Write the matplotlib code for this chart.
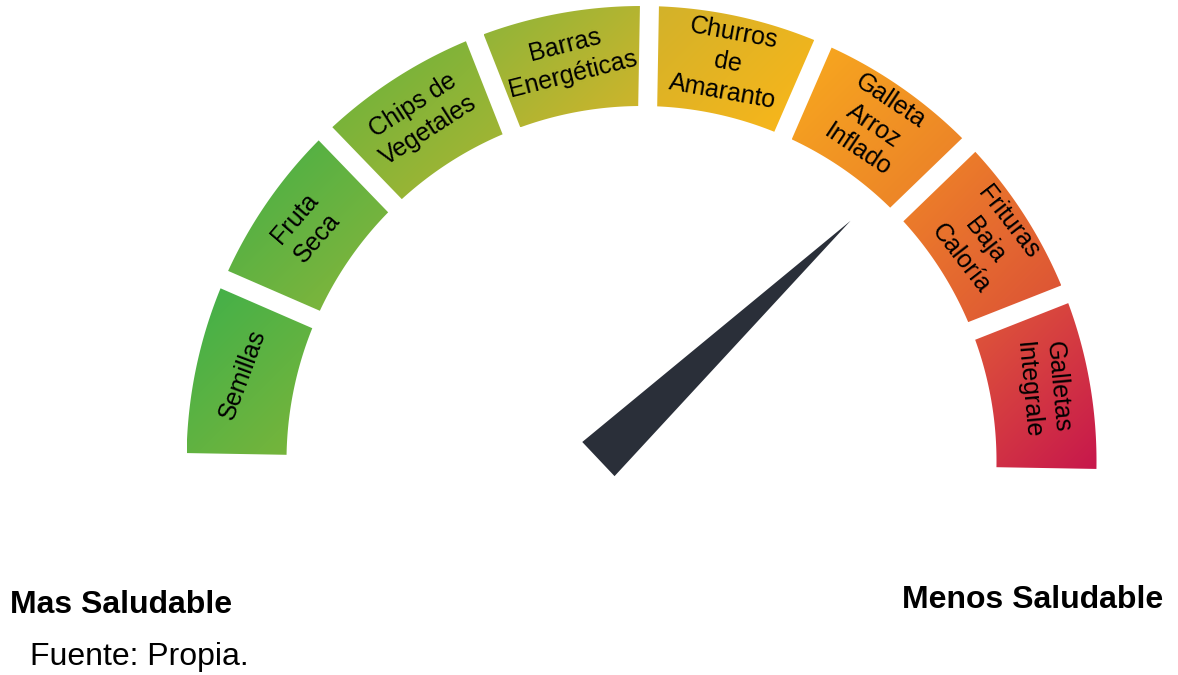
import numpy as np
import matplotlib
matplotlib.use('Agg')
import matplotlib.pyplot as plt
from matplotlib.patches import Polygon
from matplotlib.colors import to_rgb

plt.rcParams['font.family'] = ['Liberation Sans', 'DejaVu Sans']

# gauge categories, from healthiest (left) to least healthy (right)
categories = ['Semillas', 'Fruta\nSeca', 'Chips de\nVegetales', 'Barras\nEnergéticas',
              'Churros\nde\nAmaranto', 'Galleta\nArroz\nInflado',
              'Frituras\nBaja\nCaloría', 'Galletas\nIntegrale']
needle_value = 75.9   # 0 = left end, 100 = right end
left_label = 'Mas Saludable'
right_label = 'Menos Saludable'
source_text = 'Fuente: Propia.'

# gradient (top-left -> bottom-right) for every segment
seg_colors = [('#3fb04a', '#7bb53a'), ('#43af47', '#8ab63a'), ('#66b33d', '#aeb532'),
              ('#8bb53a', '#d3b42a'), ('#d2b22a', '#fcb619'), ('#f8aa1e', '#ea7c2a'),
              ('#f08727', '#db5037'), ('#e05a38', '#c7174c')]
needle_color = '#2a2f39'
# small tweaks of the label angle away from the tangent
rot_tweak = [-8, -6, 0, 4, 2, 1, 5, -5]

W, H = 1178, 675
CX, CY = 641.5, 461
R_OUT, R_IN = 455, 355
GAP = 19
START, END = 179.0, -1.0


def sector(a0, a1, gap0, gap1):
    pts = []
    for r, rev in ((R_OUT, False), (R_IN, True)):
        d0 = np.degrees(np.arcsin(gap0 / 2 / r))
        d1 = np.degrees(np.arcsin(gap1 / 2 / r))
        angs = np.linspace(a0 - d0, a1 + d1, 80)
        if rev:
            angs = angs[::-1]
        rad = np.radians(angs)
        pts.append(np.column_stack([CX + r * np.cos(rad), CY - r * np.sin(rad)]))
    return np.vstack(pts)


fig = plt.figure(figsize=(W / 100, H / 100), dpi=100)
ax = fig.add_axes([0, 0, 1, 1])

n = len(categories)
step = (START - END) / n
for i, label in enumerate(categories):
    a0 = START - i * step
    a1 = a0 - step
    pts = sector(a0, a1, GAP if i > 0 else 0, GAP if i < n - 1 else 0)
    poly = Polygon(pts, closed=True, facecolor='none', edgecolor='none')
    ax.add_patch(poly)

    x0, y0 = pts.min(0)
    x1, y1 = pts.max(0)
    nx, ny = int(x1 - x0) + 2, int(y1 - y0) + 2
    xx, yy = np.meshgrid(np.linspace(0, x1 - x0, nx), np.linspace(0, y1 - y0, ny))
    t = ((xx + yy) / ((x1 - x0) + (y1 - y0)))[..., None]
    c0, c1 = np.array(to_rgb(seg_colors[i][0])), np.array(to_rgb(seg_colors[i][1]))
    img = c0 * (1 - t) + c1 * t
    im = ax.imshow(img, extent=(x0, x1, y1, y0), origin='upper', aspect='auto',
                   interpolation='bilinear')
    im.set_clip_path(poly)

    mid = (a0 + a1) / 2
    rm = 408
    ax.text(CX + rm * np.cos(np.radians(mid)), CY - rm * np.sin(np.radians(mid)), label,
            rotation=mid - 90 + rot_tweak[i], rotation_mode='anchor', ha='center',
            va='center', multialignment='center', fontsize=18, linespacing=1.3,
            color='black')

# needle
theta = np.radians(180 - 1.8 * needle_value)
d = np.array([np.cos(theta), -np.sin(theta)])
p = np.array([np.sin(theta), np.cos(theta)])
base = np.array([CX, CY]) - 30 * d - 31 * p
tip = base + 347 * d
needle = Polygon([base + 23.5 * p, tip, base - 23.5 * p], closed=True,
                 facecolor=needle_color, edgecolor='none')
ax.add_patch(needle)

ax.text(10, 613, left_label, fontsize=23, fontweight='bold', ha='left', va='baseline')
ax.text(1163, 608, right_label, fontsize=23, fontweight='bold', ha='right', va='baseline')
ax.text(30, 665, source_text, fontsize=23, ha='left', va='baseline')

ax.set_xlim(0, W)
ax.set_ylim(H, 0)
ax.axis('off')

fig.savefig('out.png', dpi=100, facecolor='white')
